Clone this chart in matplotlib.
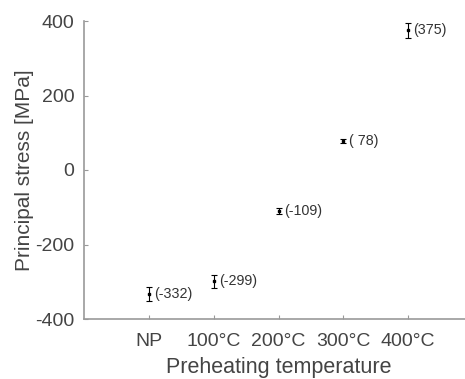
import numpy as np
import matplotlib
matplotlib.use('Agg')
import matplotlib.pyplot as plt

plt.rcParams['font.family'] = ['Liberation Sans', 'DejaVu Sans']
plt.rcParams['axes.unicode_minus'] = False

# preheating conditions and measured principal stress
temps = ['NP', '100°C', '200°C', '300°C', '400°C']
stress = [-332, -299, -109, 78, 375]
err = [19, 17, 8, 5, 20]
labels = ['(-332)', '(-299)', '(-109)', '( 78)', '(375)']

x = np.arange(1, len(temps) + 1)

fig = plt.figure(figsize=(4.65, 3.79), dpi=100)
ax = fig.add_axes([84/465, 1 - 319/379, (473 - 84)/465, (319 - 21)/379])

ax.errorbar(x, stress, yerr=err, fmt='s', color='black', markersize=2,
            elinewidth=0.8, capsize=2, capthick=0.8)
for xi, yi, lab in zip(x, stress, labels):
    ax.text(xi + 0.08, yi, lab, fontsize=10.3, color='#333333', va='center')

ax.set_xlim(0, 6)
ax.set_ylim(-400, 400)
ax.set_xticks(x)
ax.set_xticklabels(temps)
ax.set_yticks([-400, -200, 0, 200, 400])

gray = '#999999'
for s in ['top', 'right']:
    ax.spines[s].set_visible(False)
for s in ['left', 'bottom']:
    ax.spines[s].set_color(gray)
    ax.spines[s].set_linewidth(1.2)
ax.tick_params(direction='in', length=3, color=gray, labelsize=14,
               labelcolor='#444444')
ax.tick_params(axis='x', pad=10)
ax.tick_params(axis='y', pad=7)

ax.set_xlabel('Preheating temperature', fontsize=15.5, color='#444444', labelpad=5)
ax.set_ylabel('Principal stress [MPa]', fontsize=15, color='#444444', labelpad=1)

plt.savefig('out.png', dpi=100)
